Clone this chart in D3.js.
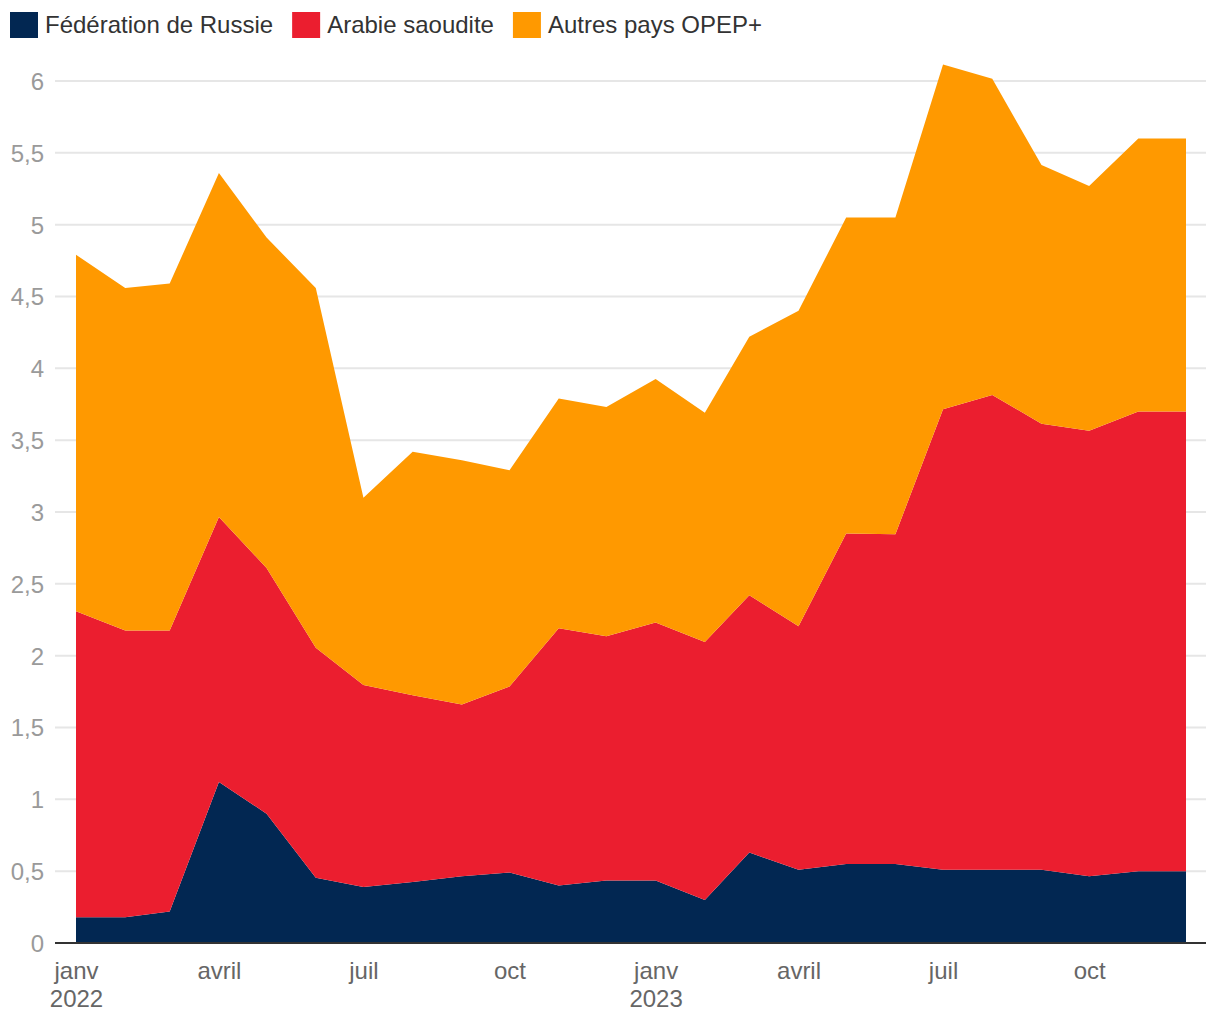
<!DOCTYPE html>
<html><head><meta charset="utf-8">
<script src="https://cdn.jsdelivr.net/npm/d3@7"></script>
<style>
body{margin:0;background:#fff;font-family:"Liberation Sans",Arial,Helvetica,sans-serif;}
</style></head>
<body><svg id="c" width="1220" height="1020"></svg>
<script>
const months = ["2022-01","2022-02","2022-03","2022-04","2022-05","2022-06","2022-07","2022-08","2022-09","2022-10","2022-11","2022-12",
"2023-01","2023-02","2023-03","2023-04","2023-05","2023-06","2023-07","2023-08","2023-09","2023-10","2023-11","2023-12"];
const seriesNames = ["Fédération de Russie","Arabie saoudite","Autres pays OPEP+"];
const russie = [0.18,0.18,0.22,1.12,0.90,0.455,0.39,0.425,0.465,0.49,0.40,0.435,0.435,0.30,0.63,0.51,0.55,0.55,0.51,0.51,0.51,0.465,0.50,0.50];
const arabie = [2.13,1.995,1.955,1.845,1.71,1.60,1.405,1.30,1.195,1.295,1.79,1.70,1.795,1.795,1.79,1.695,2.30,2.295,3.205,3.305,3.105,3.10,3.20,3.20];
const autres = [2.48,2.385,2.415,2.395,2.30,2.505,1.305,1.695,1.70,1.505,1.60,1.595,1.695,1.595,1.80,2.195,2.20,2.205,2.40,2.20,1.80,1.705,1.90,1.90];
const colors = ["#022752","#EB1E2F","#FF9900"];
const yTicks = [0,0.5,1,1.5,2,2.5,3,3.5,4,4.5,5,5.5,6];
const xTickMonths = ["2022-01","2022-04","2022-07","2022-10","2023-01","2023-04","2023-07","2023-10"];
const monthLabels = {0:"janv",3:"avril",6:"juil",9:"oct"};

(function(){
const parse = d3.timeParse("%Y-%m");
const data = months.map((m,i)=>({date:parse(m), s0:russie[i], s1:arabie[i], s2:autres[i]}));
const svg = d3.select("#c");
const pLeft=55, pRight=1206, pTop=81, pBottom=943;
const font = "'Liberation Sans',Arial,sans-serif";
const x = d3.scaleTime().domain([parse("2022-01"),parse("2023-12")]).range([76,1186]);
const y = d3.scaleLinear().domain([0,6]).range([pBottom,pTop]);

// grid
svg.append("g").selectAll("line").data(yTicks.filter(d=>d>0)).join("line")
  .attr("x1",pLeft).attr("x2",pRight).attr("y1",d=>y(d)).attr("y2",d=>y(d))
  .attr("stroke","#e6e6e6").attr("stroke-width",2);

// areas
const stack = d3.stack().keys(["s0","s1","s2"]);
const layers = stack(data);
const area = d3.area().x(d=>x(d.data.date)).y0(d=>y(d[0])).y1(d=>y(d[1]));
svg.append("g").selectAll("path").data(layers).join("path")
  .attr("d",area).attr("fill",(d,i)=>colors[i]);

// baseline
svg.append("line").attr("x1",pLeft).attr("x2",pRight).attr("y1",pBottom).attr("y2",pBottom)
  .attr("stroke","#333").attr("stroke-width",2);

// y axis
const yAxis = d3.axisLeft(y).tickValues(yTicks).tickSize(0).tickPadding(0)
  .tickFormat(d=>d3.format(".1~f")(d).replace(".",","));
const gy = svg.append("g").attr("transform","translate(44,0)").call(yAxis);
gy.select(".domain").remove();
gy.selectAll("text").attr("fill","#9a9a9a").attr("font-size",24)
  .attr("font-family",font).attr("dy","0.35em");

// x axis
const xAxis = d3.axisBottom(x).tickValues(xTickMonths.map(parse)).tickSize(0).tickPadding(0)
  .tickFormat(d=>monthLabels[d.getMonth()]);
const gx = svg.append("g").attr("transform",`translate(0,${pBottom})`).call(xAxis);
gx.select(".domain").remove();
gx.selectAll("text").attr("fill","#666").attr("font-size",24)
  .attr("font-family",font).attr("dy",0).attr("y",36);
gx.selectAll(".tick").filter(d=>d.getMonth()===0).append("text")
  .attr("fill","#666").attr("font-size",24).attr("text-anchor","middle")
  .attr("font-family",font).attr("y",64)
  .text(d=>d.getFullYear());

// legend
const lg = svg.append("g");
let lx = 10;
seriesNames.forEach((n,i)=>{
  lg.append("rect").attr("x",lx).attr("y",12).attr("width",28).attr("height",26).attr("fill",colors[i]);
  const t = lg.append("text").attr("x",lx+35).attr("y",33).attr("font-size",24)
    .attr("fill","#333").attr("font-family",font).text(n);
  lx += 35 + t.node().getComputedTextLength() + 19;
});
})();
</script></body></html>
